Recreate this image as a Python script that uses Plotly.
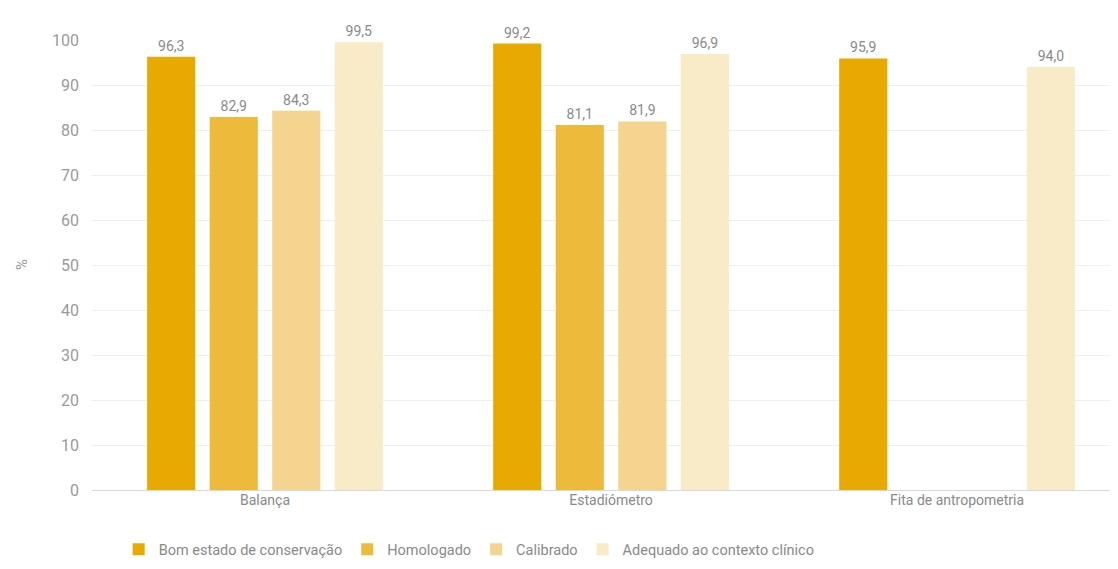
import plotly.graph_objects as go

categories = ["Balança", "Estadiómetro", "Fita de antropometria"]
series_names = ["Bom estado de conservação", "Homologado", "Calibrado", "Adequado ao contexto clínico"]
bom_estado = [96.3, 99.2, 95.9]
homologado = [82.9, 81.1, None]
calibrado = [84.3, 81.9, None]
adequado = [99.5, 96.9, 94.0]
y_ticks = [0, 10, 20, 30, 40, 50, 60, 70, 80, 90, 100]
y_title = "%"

colors = ["#E8A900", "#EDBA3C", "#F4D48F", "#FAEBC8"]
series_values = [bom_estado, homologado, calibrado, adequado]

def fmt(v):
    return "" if v is None else f"{v:.1f}".replace(".", ",")

fig = go.Figure()
for name, vals, col in zip(series_names, series_values, colors):
    fig.add_trace(go.Bar(
        name=name, x=categories, y=vals, marker=dict(color=col, line=dict(width=0)),
        text=[fmt(v) for v in vals], textposition="outside", cliponaxis=False,
        textfont=dict(size=14, color="#8a8a8a", family="Roboto"),
    ))

L = 84
fig.update_layout(
    width=1110, height=561,
    paper_bgcolor="white", plot_bgcolor="white",
    margin=dict(l=L, r=0, t=32, b=79, autoexpand=False),
    barmode="group", bargap=0.277, bargroupgap=0.23,
    font=dict(family="Roboto", size=13, color="#8a8a8a"),
    legend=dict(orientation="h", x=0.026, xanchor="left",
                yref="container", y=0.035, yanchor="middle",
                font=dict(size=14.5, color="#8a8a8a"), itemwidth=30, traceorder="normal"),
    showlegend=True,
    annotations=[dict(text=y_title, textangle=-90, xref="paper", yref="paper",
                      x=(22 - 8 - L) / 1026, y=0.5, xanchor="center", yanchor="middle",
                      showarrow=False, font=dict(size=15, color="#9a9a9a"))],
)
fig.update_xaxes(range=[-0.5, 2.465], showgrid=False, showline=False, ticks="",
                 tickfont=dict(size=14, color="#8a8a8a"), automargin=False)
fig.update_yaxes(range=[0, 100], tickvals=y_ticks, showgrid=True, gridcolor="#efefef",
                 zeroline=True, zerolinecolor="#d9d9d9", zerolinewidth=1,
                 tickfont=dict(size=16, color="#9a9a9a"), ticks="", ticklabelstandoff=12,
                 automargin=False)

fig.write_html("out.html")
